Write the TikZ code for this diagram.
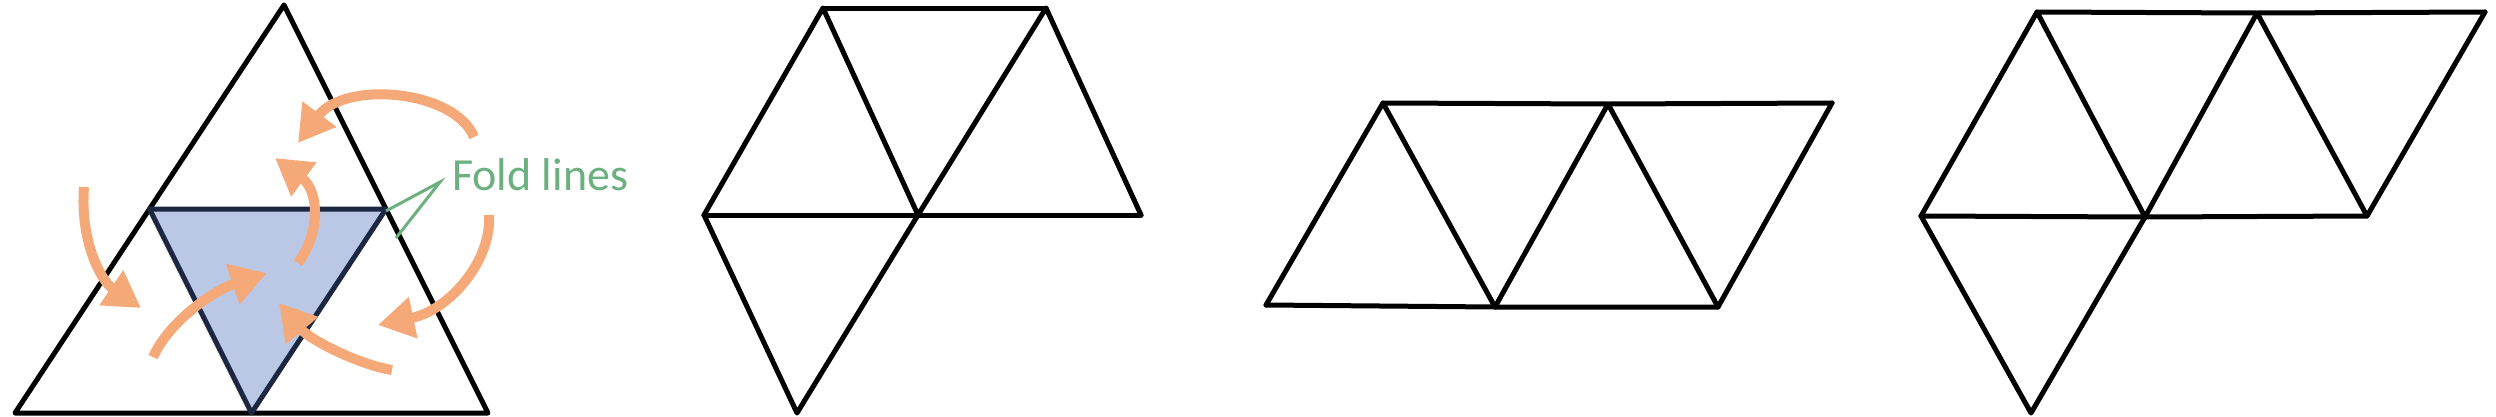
\documentclass[tikz,border=0pt]{standalone}
\usepackage{fontspec}
\newfontfamily\lblfont{Carlito}
\usetikzlibrary{arrows.meta}
\definecolor{arroworange}{RGB}{245,168,120}
\definecolor{foldgreen}{RGB}{108,176,128}
\definecolor{bluefill}{RGB}{186,200,229}
\definecolor{blueedge}{RGB}{28,40,66}
\tikzset{
  edge/.style={draw=black, line width=5pt, line cap=round, line join=round},
  inneredge/.style={draw=blueedge, line width=5pt, line join=round},
  foldarrow/.style={draw=arroworange, line width=10pt, -{Triangle[length=36pt,width=40pt]}},
  pointer/.style={draw=foldgreen, line width=3pt},
}
\begin{document}
\begin{tikzpicture}[x=1pt,y=-1pt]
\useasboundingbox (0,0) rectangle (2496,416);
% ---------- panel 1 ----------
\coordinate (A) at (284,5);
\coordinate (BL) at (15,413);
\coordinate (BR) at (488,413);
\coordinate (mL) at (149.5,209);
\coordinate (mR) at (386,209);
\coordinate (mB) at (251.5,413);
\fill[bluefill] (mL) -- (mR) -- (mB) -- cycle;
\draw[edge] (A) -- (BL) -- (BR) -- cycle;
\draw[inneredge] (mL) -- (mR) -- (mB) -- cycle;
% arrows
\coordinate (aS) at (474,137); \coordinate (aE) at (298,143);
\coordinate (bS) at (298,263); \coordinate (bE) at (275,158);
\coordinate (cS) at (84,187);  \coordinate (cE) at (141,308);
\coordinate (dS) at (153,357); \coordinate (dE) at (267,273);
\coordinate (eS) at (392,370); \coordinate (eE) at (279,303);
\coordinate (fS) at (489,215); \coordinate (fE) at (378,325);
\draw[foldarrow] (aS) .. controls (455,90) and (345,80) .. (aE);
\draw[foldarrow] (bS) .. controls (322,230) and (318,190) .. (bE);
\draw[foldarrow] (cS) .. controls (80,240) and (100,280) .. (cE);
\draw[foldarrow] (dS) .. controls (170,320) and (215,290) .. (dE);
\draw[foldarrow] (eS) .. controls (360,365) and (310,340) .. (eE);
\draw[foldarrow] (fS) .. controls (492,260) and (450,310) .. (fE);
% label
\node[text=foldgreen, anchor=base west, inner sep=0pt, font=\lblfont\fontsize{46}{52}\selectfont] (lbl) at (452,190) {Fold lines};
\coordinate (pt) at (440,182);
\coordinate (p1) at (386,211);
\coordinate (p2) at (396,238);
\draw[pointer] (p1) -- (pt) -- (p2);
% ---------- panel 2 ----------
\coordinate (q1) at (823,8);
\coordinate (q2) at (1046,8);
\coordinate (q3) at (704,215);
\coordinate (q4) at (918,215);
\coordinate (q5) at (1141,215);
\coordinate (q6) at (797,413);
\draw[edge] (q1) -- (q2);
\draw[edge] (q3) -- (q5);
\draw[edge] (q3) -- (q1) -- (q4) -- (q2) -- (q5);
\draw[edge] (q3) -- (q6) -- (q4);
% ---------- panel 3 ----------
\coordinate (r1) at (1383,103);
\coordinate (r2) at (1608,104);
\coordinate (r3) at (1832,103);
\coordinate (r4) at (1266,305);
\coordinate (r5) at (1495,307);
\coordinate (r6) at (1718,307);
\draw[edge] (r1) -- (r2) -- (r3);
\draw[edge] (r4) -- (r5) -- (r6);
\draw[edge] (r4) -- (r1) -- (r5) -- (r2) -- (r6) -- (r3);
% ---------- panel 4 ----------
\coordinate (s1) at (2037,12);
\coordinate (s2) at (2257,13);
\coordinate (s3) at (2485,12);
\coordinate (s4) at (1921,216);
\coordinate (s5) at (2145,217);
\coordinate (s6) at (2367,216);
\coordinate (s7) at (2031,413);
\draw[edge] (s1) -- (s2) -- (s3);
\draw[edge] (s4) -- (s5) -- (s6);
\draw[edge] (s4) -- (s1) -- (s5) -- (s2) -- (s6) -- (s3);
\draw[edge] (s4) -- (s7) -- (s5);
\end{tikzpicture}
\end{document}
